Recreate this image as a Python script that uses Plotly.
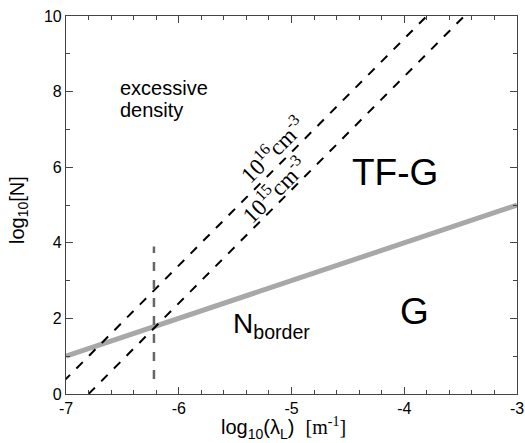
import plotly.graph_objects as go

# data
x_range = [-7, -3]
y_range = [0, 10]
border_x = [-7, -3]
border_y = [1.0, 5.0]
d16_x = [-7.133, -3.8]
d16_y = [0.0, 10.0]
d15_x = [-6.8, -3.467]
d15_y = [0.0, 10.0]
vline_x = [-6.22, -6.22]
vline_y = [0.4, 3.9]
x_ticks = [-7, -6, -5, -4, -3]
x_ticktext = ["-7", "-6", "-5", "-4", "-3"]
y_ticks = [0, 2, 4, 6, 8, 10]

fig = go.Figure()
fig.add_trace(go.Scatter(x=border_x, y=border_y, mode="lines",
                         line=dict(color="#a8a8a8", width=5)))
fig.add_trace(go.Scatter(x=d16_x, y=d16_y, mode="lines",
                         line=dict(color="black", width=2, dash="dash")))
fig.add_trace(go.Scatter(x=d15_x, y=d15_y, mode="lines",
                         line=dict(color="black", width=2, dash="dash")))
fig.add_trace(go.Scatter(x=vline_x, y=vline_y, mode="lines",
                         line=dict(color="#666666", width=2.5, dash="dash")))

sans = "Liberation Sans, Arial, sans-serif"
serif = "Liberation Serif, Times New Roman, serif"
ann = []
ann.append(dict(x=-6.54, y=8.1, text="excessive", showarrow=False,
                xanchor="left", font=dict(size=20, family=sans, color="black")))
ann.append(dict(x=-6.54, y=7.52, text="density", showarrow=False,
                xanchor="left", font=dict(size=20, family=sans, color="black")))
ann.append(dict(x=-4.08, y=5.87, text="TF-G", showarrow=False,
                font=dict(size=37, family=sans, color="black")))
ann.append(dict(x=-3.91, y=2.18, text="G", showarrow=False,
                font=dict(size=37, family=sans, color="black")))
ann.append(dict(x=-5.18, y=1.82, text="N<sub>border</sub>", showarrow=False,
                font=dict(size=28, family=sans, color="black")))
ann.append(dict(x=-5.17, y=6.47, text="10<sup>16</sup>cm<sup>-3</sup>", showarrow=False,
                textangle=-45, font=dict(size=23, family=serif, color="black")))
ann.append(dict(x=-5.15, y=5.4, text="10<sup>15</sup>cm<sup>-3</sup>", showarrow=False,
                textangle=-45, font=dict(size=23, family=serif, color="black")))
# axis titles
ann.append(dict(xref="paper", yref="paper", x=0.482, y=-0.091, xanchor="center", yanchor="middle",
                text="log<sub>10</sub>(λ<sub>L</sub>)  <span style=\"font-family:Liberation Serif\">[m<sup>-1</sup>]</span>",
                showarrow=False, font=dict(size=20, family=sans, color="black")))
ann.append(dict(xref="paper", yref="paper", x=-0.104, y=0.487, xanchor="center", yanchor="middle",
                text="log<sub>10</sub>[N]",
                textangle=-90, showarrow=False, font=dict(size=20, family=sans, color="black")))

fig.update_layout(
    width=525, height=443,
    margin=dict(l=66, r=8, t=16, b=49),
    plot_bgcolor="white", paper_bgcolor="white",
    showlegend=False,
    annotations=ann,
    font=dict(family=sans, size=16, color="black"),
)
axis_common = dict(ticks="inside", ticklen=7, tickcolor="#444", showline=True, linecolor="#444",
                   linewidth=1.2, mirror="ticks", showgrid=False, zeroline=False,
                   tickfont=dict(size=16, family=sans, color="black"), automargin=False)
fig.update_xaxes(range=x_range, tickvals=x_ticks, ticktext=x_ticktext,
                 minor=dict(dtick=0.2, ticks="inside", ticklen=4, tickcolor="#444"),
                 **axis_common)
fig.update_yaxes(range=y_range, tickvals=y_ticks,
                 minor=dict(dtick=1, ticks="inside", ticklen=4, tickcolor="#444"),
                 **axis_common)

fig.write_html("out.html", config={"displayModeBar": False},
               post_script="document.body.style.margin='0';document.body.style.overflow='hidden';")
